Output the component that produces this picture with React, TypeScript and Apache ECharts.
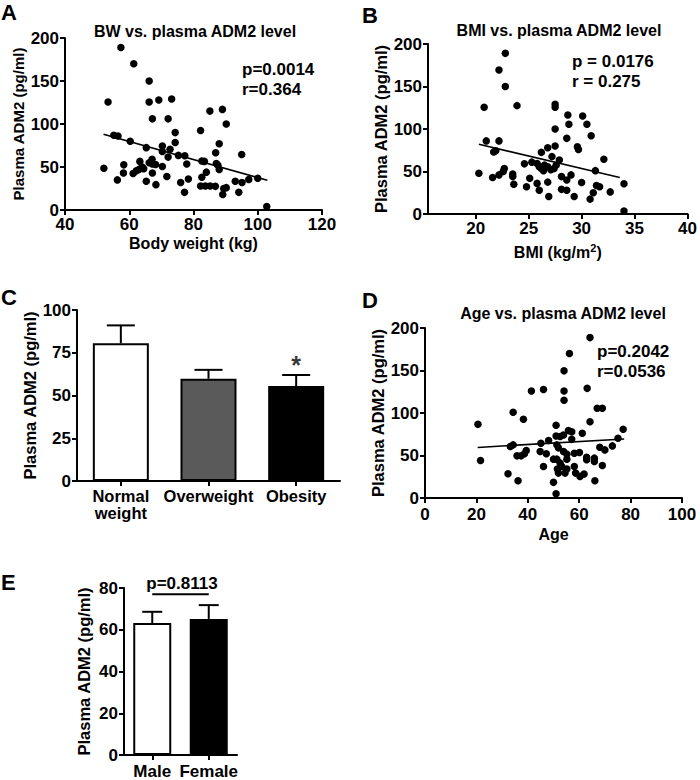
import React, { useEffect, useRef } from "react";
import * as echarts from "echarts";

const FONT = "'Liberation Sans', Arial, Helvetica, sans-serif";

// Panel A: body weight (kg) vs plasma ADM2 (pg/ml)
const bwPoints: [number, number][] = [
  [57.4, 189], [61.4, 170], [66.2, 150], [53.4, 125.5], [66.2, 125.5], [69.2, 128], [73.2, 129],
  [67.2, 106], [72.1, 106], [85.1, 115], [89, 117], [90.2, 100], [82.2, 92.5], [55.2, 87],
  [56.5, 86], [60.3, 80], [74.3, 90], [74.3, 78.5], [65.3, 72.5], [70.3, 74.5], [70.3, 68],
  [72.7, 70.5], [72.1, 61.5], [75.3, 63.5], [77.3, 63], [77.9, 53.5], [88, 77], [86.9, 66.5],
  [95, 64.5], [82.6, 57], [83.4, 56.5], [87.1, 54], [87.6, 52], [88, 47], [84, 44], [82.6, 38],
  [52.1, 48.5], [58.3, 52.5], [58.2, 43], [56.3, 35], [61.2, 42.5], [62.2, 45.5], [63.3, 56.5],
  [64, 50], [63, 47], [64.5, 48], [66.2, 55], [67.1, 59], [67.2, 53.5], [68.2, 53], [67.2, 43],
  [70.3, 50.5], [65.3, 33.5], [68.3, 29.5], [71.7, 39], [76, 32], [78.4, 36], [77.2, 20.5],
  [82.2, 28], [83.7, 28], [85.2, 28], [86.8, 27.5], [89.4, 25], [90.2, 26], [89.1, 18],
  [94.1, 20.5], [93, 33.5], [95.1, 32], [97.2, 35.5], [100, 37], [102.8, 4],
];
const bwFit: [number, number][] = [[52, 88], [103, 34.5]];

// Panel B: BMI vs plasma ADM2
const bmiPoints: [number, number][] = [
  [22.8, 189], [22.2, 169.5], [22.8, 150], [20.8, 125.5], [23.9, 127.5], [27.5, 129], [27.5, 125.5],
  [27.5, 100], [28.7, 116.5], [28.8, 105.5], [30.1, 115.3], [30.5, 105.5], [30.9, 92], [28.6, 89],
  [29.6, 79], [29.7, 76], [21, 86], [22.2, 86], [21.7, 73], [21.9, 74.5], [25.3, 61], [24.6, 59],
  [20.3, 48], [21.6, 43], [22.2, 46], [22.7, 53.5], [22.6, 50], [23.5, 47], [23.6, 35], [23.5, 44],
  [24.8, 32], [25.1, 42], [25.8, 36], [26, 28], [26.2, 72.5], [26.8, 78], [27.2, 67.5], [25.8, 59.5],
  [26, 55.5], [26.2, 53.5], [26.4, 51], [26.5, 57.5], [26.8, 55.5], [27.1, 52], [27.4, 53.5],
  [27.6, 57.5], [27.5, 80], [27.9, 63.5], [26.8, 37.5], [26.9, 20.5], [28.1, 44], [28.6, 40],
  [29, 46], [28.1, 29], [28.6, 28], [29.3, 20.5], [30, 37], [31.3, 51], [32.1, 64.5], [31.4, 33.5],
  [31.7, 32], [31.1, 25], [30.8, 17.5], [32.7, 26], [34, 35.5], [34, 3.5],
];
const bmiFit: [number, number][] = [[20.3, 82], [33.6, 43]];
const bmiTicks = [20, 25, 30, 35, 40];

// Panel C: BMI groups
const groupNames = ["Normal\nweight", "Overweight", "Obesity"];
const groupMeans = [80.5, 59.8, 55.5];
const groupUpper = [91, 65, 62];
const groupFills = ["#ffffff", "#5a5a5a", "#000000"];

// Panel D: age vs plasma ADM2
const agePoints: [number, number][] = [
  [64.2, 188.7], [56.2, 170], [54.1, 149.6], [41.4, 125.8], [46.1, 127.7], [54.1, 125.8], [54.1, 115],
  [63.1, 129], [34.3, 100.8], [38.3, 92.6], [20.6, 86.7], [67, 105.5], [69, 105.5], [64.2, 89.8],
  [51, 85.5], [77.1, 80.9], [61.2, 76.2], [55.8, 79.3], [57.1, 78], [53.9, 74.2], [52.6, 72.3],
  [51, 73], [57.1, 69], [75.1, 70.3], [34.3, 62.5], [33.2, 60.5], [48.1, 67.6], [45.1, 64.5],
  [51.3, 62.5], [51.9, 59], [68, 59.8], [70, 56.6], [72.9, 61.3], [21.6, 44.1], [35.8, 49.6],
  [37.4, 49.6], [39.4, 55.9], [38.7, 52], [44.8, 54.7], [47.2, 52], [53.9, 54.7], [55.2, 51.6],
  [55.2, 45.7], [51.3, 45.7], [58.1, 52.7], [60.1, 53.5], [62.9, 48], [65.9, 46.9], [46.1, 37.1],
  [50, 45.7], [52.6, 41], [53.2, 37.1], [51.5, 34], [55.2, 34], [51.9, 29.3], [54.5, 29.3],
  [58.1, 37.1], [58.6, 29.3], [60.3, 25.4], [61.9, 28.1], [62.9, 44.9], [65.9, 43], [69, 38.3],
  [32.3, 28.5], [36.2, 20.3], [50, 18.4], [66.1, 20.3], [51, 5.1],
];
const ageFit: [number, number][] = [[20.5, 59.5], [77.5, 69.5]];

// Panel E: sex
const sexNames = ["Male", "Female"];
const sexMeans = [63.2, 65.2];
const sexUpper = [68.6, 71.8];
const sexFills = ["#ffffff", "#000000"];
const sexBracket = 77;

const txt = (size: number) => ({ color: "#000", fontSize: size, fontWeight: "bold" as const, fontFamily: FONT });

function makeAxis(extra: any) {
  const { axisLabel, axisTick, nameTextStyle, ...rest } = extra;
  return {
    axisLine: { show: true, onZero: false, lineStyle: { color: "#000", width: 2 } },
    axisTick: { show: true, length: 5, lineStyle: { color: "#000", width: 2 }, ...(axisTick || {}) },
    splitLine: { show: false },
    axisLabel: { ...txt(17), margin: 6, ...(axisLabel || {}) },
    nameLocation: "middle",
    nameTextStyle: { ...txt(16), ...(nameTextStyle || {}) },
    ...rest,
  };
}

function errRender(cap: number) {
  return (params: any, api: any) => {
    const x = api.value(0);
    const lo = api.coord([x, api.value(1)]);
    const hi = api.coord([x, api.value(2)]);
    const h = cap / 2;
    const st = { stroke: "#000", lineWidth: 2 };
    return {
      type: "group",
      children: [
        { type: "line", shape: { x1: lo[0], y1: lo[1], x2: hi[0], y2: hi[1] }, style: st },
        { type: "line", shape: { x1: hi[0] - h, y1: hi[1], x2: hi[0] + h, y2: hi[1] }, style: st },
      ],
    };
  };
}

function gText(text: string, x: number, y: number, size: number, align = "left", vAlign = "middle") {
  return {
    type: "text",
    x,
    y,
    style: {
      text,
      fill: "#000",
      fontSize: size,
      fontWeight: "bold",
      fontFamily: FONT,
      align,
      verticalAlign: vAlign,
      textAlign: align,
      textVerticalAlign: vAlign,
    },
  };
}

const YNAME = "Plasma ADM2 (pg/ml)";

export default function App() {
  const ref = useRef<HTMLDivElement>(null);
  useEffect(() => {
    document.body.style.margin = "0";
    const chart = echarts.init(ref.current!, undefined, { renderer: "svg" });
    const dot = { color: "#000", opacity: 1 };
    const option: any = {
      animation: false,
      backgroundColor: "#fff",
      grid: [
        { left: 65, top: 38, width: 257, height: 172 },
        { left: 428, top: 44, width: 263, height: 170 },
        { left: 77, top: 310, width: 263, height: 171 },
        { left: 425, top: 328, width: 257, height: 170 },
        { left: 124, top: 588, width: 113, height: 172 },
      ],
      xAxis: [
        makeAxis({ gridIndex: 0, type: "value", min: 40, max: 120, interval: 20, name: "Body weight (kg)", nameGap: 25 }),
        makeAxis({
          gridIndex: 1, type: "value", min: 15.5, max: 40,
          axisLabel: { customValues: bmiTicks },
          axisTick: { customValues: bmiTicks },
          name: "BMI (kg/m{sup|2})", nameGap: 28,
          nameTextStyle: { rich: { sup: { ...txt(11), padding: [0, 0, 9, 0] } } },
        }),
        makeAxis({
          gridIndex: 2, type: "category", data: groupNames,
          axisTick: { alignWithLabel: true },
          axisLabel: { fontSize: 16.5, lineHeight: 17, margin: 6, interval: 0 },
        }),
        makeAxis({ gridIndex: 3, type: "value", min: 0, max: 100, interval: 20, name: "Age", nameGap: 28, axisLabel: { margin: 8 } }),
        makeAxis({
          gridIndex: 4, type: "category", data: sexNames,
          axisTick: { alignWithLabel: true },
          axisLabel: { margin: 8, interval: 0 },
        }),
      ],
      yAxis: [
        makeAxis({ gridIndex: 0, type: "value", min: 0, max: 200, interval: 50, name: YNAME, nameGap: 39, nameTextStyle: { fontSize: 15 } }),
        makeAxis({ gridIndex: 1, type: "value", min: 0, max: 200, interval: 50, name: YNAME, nameGap: 33, nameTextStyle: { fontSize: 16.5 } }),
        makeAxis({ gridIndex: 2, type: "value", min: 0, max: 100, interval: 25, name: YNAME, nameGap: 34, nameTextStyle: { fontSize: 16.5 } }),
        makeAxis({ gridIndex: 3, type: "value", min: 0, max: 200, interval: 50, name: YNAME, nameGap: 38, nameTextStyle: { fontSize: 16.5 } }),
        makeAxis({ gridIndex: 4, type: "value", min: 0, max: 80, interval: 20, name: YNAME, nameGap: 32, nameTextStyle: { fontSize: 16.5 } }),
      ],
      series: [
        { type: "scatter", xAxisIndex: 0, yAxisIndex: 0, data: bwPoints, symbolSize: 7.5, itemStyle: dot },
        { type: "line", xAxisIndex: 0, yAxisIndex: 0, data: bwFit, symbol: "none", lineStyle: { color: "#000", width: 1.6 } },
        { type: "scatter", xAxisIndex: 1, yAxisIndex: 1, data: bmiPoints, symbolSize: 7.5, itemStyle: dot },
        { type: "line", xAxisIndex: 1, yAxisIndex: 1, data: bmiFit, symbol: "none", lineStyle: { color: "#000", width: 1.6 } },
        {
          type: "bar", xAxisIndex: 2, yAxisIndex: 2, barWidth: 56,
          data: groupMeans.map((v, i) => ({ value: v, itemStyle: { color: groupFills[i] } })),
          itemStyle: { borderColor: "#000", borderWidth: 2 },
        },
        {
          type: "custom", xAxisIndex: 2, yAxisIndex: 2, renderItem: errRender(28),
          encode: { x: 0, y: [1, 2] },
          data: groupMeans.map((v, i) => [i, v, groupUpper[i]]),
          z: 3,
        },
        {
          type: "scatter", xAxisIndex: 2, yAxisIndex: 2, symbolSize: 2, itemStyle: { color: "rgba(0,0,0,0)" },
          data: [[2, groupUpper[2]]],
          label: { show: true, position: "top", formatter: "*", distance: -4, ...txt(25) },
          z: 4,
        },
        { type: "scatter", xAxisIndex: 3, yAxisIndex: 3, data: agePoints, symbolSize: 7.5, itemStyle: dot },
        { type: "line", xAxisIndex: 3, yAxisIndex: 3, data: ageFit, symbol: "none", lineStyle: { color: "#000", width: 1.6 } },
        {
          type: "bar", xAxisIndex: 4, yAxisIndex: 4, barWidth: 38,
          data: sexMeans.map((v, i) => ({ value: v, itemStyle: { color: sexFills[i] } })),
          itemStyle: { borderColor: "#000", borderWidth: 2 },
        },
        {
          type: "custom", xAxisIndex: 4, yAxisIndex: 4, renderItem: errRender(20),
          encode: { x: 0, y: [1, 2] },
          data: sexMeans.map((v, i) => [i, v, sexUpper[i]]),
          z: 3,
        },
        {
          type: "line", xAxisIndex: 4, yAxisIndex: 4, symbol: "none",
          data: [[0, sexBracket], [1, sexBracket]],
          lineStyle: { color: "#000", width: 2 },
        },
      ],
      graphic: [
        gText("A", 1, 12, 22),
        gText("B", 362, 15, 22),
        gText("C", 1, 297, 22),
        gText("D", 362, 300, 22),
        gText("E", 1, 582, 22),
        gText("BW vs. plasma ADM2 level", 195, 31, 16, "center"),
        gText("BMI vs. plasma ADM2 level", 559, 30, 16, "center"),
        gText("Age vs. plasma ADM2 level", 563, 313, 16, "center"),
        gText("p=0.0014", 242, 69, 17),
        gText("r=0.364", 242, 89, 17),
        gText("p = 0.0176", 572, 61, 17),
        gText("r = 0.275", 572, 81, 17),
        gText("p=0.2042", 597, 351, 17),
        gText("r=0.0536", 597, 371, 17),
        gText("p=0.8113", 182, 583, 17, "center"),
      ],
    };
    chart.setOption(option);
    return () => chart.dispose();
  }, []);
  return <div ref={ref} style={{ width: 700, height: 780 }} />;
}
